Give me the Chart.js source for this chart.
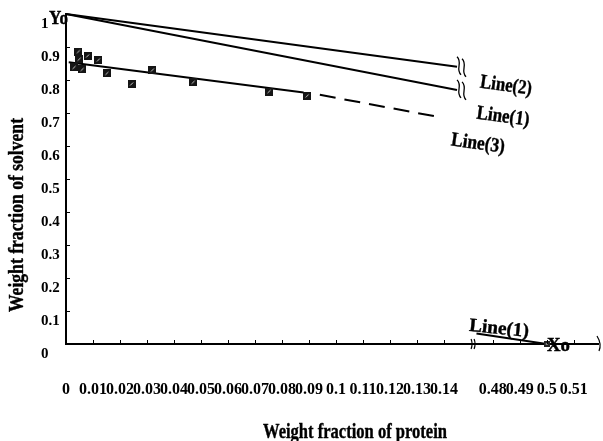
<!DOCTYPE html>
<html>
<head>
<meta charset="utf-8">
<script src="https://cdn.jsdelivr.net/npm/chart.js@4.4.1/dist/chart.umd.min.js"></script>
<style>
  html, body { margin: 0; padding: 0; background: #fff; }
</style>
</head>
<body>
<canvas id="chart" width="603" height="441"></canvas>
<script>
// values (weight fraction of protein / of solvent)
const pointsX = [0.0046, 0.0049, 0.0030, 0.0060, 0.0080, 0.0120, 0.0151, 0.0243, 0.0320, 0.0471, 0.0752, 0.0893];
const pointsY = [0.886, 0.863, 0.838, 0.832, 0.873, 0.861, 0.820, 0.788, 0.830, 0.793, 0.765, 0.752];

const line1X = [0, 0.1448];
const line1Y = [1.0, 0.770];
const line1TailX = [0.474, 0.5];
const line1TailY = [0.032, 0];
const line2X = [0, 0.1448];
const line2Y = [1.0, 0.840];
const line3X = [0.001, 0.088];
const line3Y = [0.854, 0.762];
const line3DashX = [0.094, 0.1393];
const line3DashY = [0.755, 0.686];

const xoX = [0.5];
const xoY = [0];

const xTicksLeft = [0, 0.01, 0.02, 0.03, 0.04, 0.05, 0.06, 0.07, 0.08, 0.09, 0.1, 0.11, 0.12, 0.13, 0.14];
const xTicksRight = [0.48, 0.49, 0.5, 0.51];
const yTicks = [0, 0.1, 0.2, 0.3, 0.4, 0.5, 0.6, 0.7, 0.8, 0.9, 1];

// the x axis is broken between 0.15 and 0.47, the right piece is slid left
const BREAK_AT = 0.15;
const BREAK_SHIFT = 0.322;
const toAxis = x => x > BREAK_AT ? x - BREAK_SHIFT : x;
const xTickValues = xTicksLeft.concat(xTicksRight);

const pts = (xs, ys) => xs.map((x, i) => ({ x: toAxis(x), y: ys[i] }));

const SERIF = '"Liberation Serif", "Times New Roman", serif';

// hatched square like the original markers
const marker = document.createElement('canvas');
marker.width = 8; marker.height = 8;
{
  const m = marker.getContext('2d');
  m.fillStyle = '#151515'; m.fillRect(0, 0, 8, 8);
  m.strokeStyle = '#c8c8c8'; m.lineWidth = 1;
  m.beginPath(); m.moveTo(2.5, 5.5); m.lineTo(5.5, 2.5); m.stroke();
}
const xoMarker = document.createElement('canvas');
xoMarker.width = 6; xoMarker.height = 6;
{
  const m = xoMarker.getContext('2d');
  m.fillStyle = '#222'; m.fillRect(0, 0, 6, 6);
  m.fillStyle = '#888'; m.fillRect(2, 2, 2, 2);
}

const lineSet = (data, extra) => Object.assign({
  data, showLine: true, pointRadius: 0, borderColor: '#000', borderWidth: 2,
  fill: false, clip: false, tension: 0
}, extra || {});

// squeezed text, the original uses a narrow heavy serif
function fitText(ctx, text, cx, cy, font, width, angle) {
  ctx.save();
  ctx.font = font;
  ctx.fillStyle = '#000';
  ctx.strokeStyle = '#000';
  ctx.lineWidth = 0.4;
  ctx.textAlign = 'center';
  ctx.textBaseline = 'middle';
  const w = ctx.measureText(text).width;
  ctx.translate(cx, cy);
  ctx.rotate((angle || 0) * Math.PI / 180);
  ctx.scale(width / w, 1);
  ctx.fillText(text, 0, 0);
  ctx.strokeText(text, 0, 0);
  ctx.restore();
}

function sCurve(ctx, x, y, h) {
  ctx.beginPath();
  ctx.moveTo(x - 2, y - h);
  ctx.bezierCurveTo(x + 4, y - h / 3, x - 4, y + h / 3, x + 2, y + h);
  ctx.stroke();
}

const extras = {
  id: 'extras',
  afterDraw(chart) {
    const { ctx, chartArea, scales: { x, y } } = chart;
    ctx.save();
    ctx.strokeStyle = '#000';
    ctx.lineWidth = 1;
    // inward tick marks
    x.ticks.forEach(t => {
      const px = Math.round(x.getPixelForValue(t.value)) + 0.5;
      if (px < chartArea.left + 2) return;
      ctx.beginPath(); ctx.moveTo(px, chartArea.bottom); ctx.lineTo(px, chartArea.bottom - 4); ctx.stroke();
    });
    y.ticks.forEach(t => {
      const py = Math.round(y.getPixelForValue(t.value)) + 0.5;
      ctx.beginPath(); ctx.moveTo(chartArea.left, py); ctx.lineTo(chartArea.left + 4, py); ctx.stroke();
    });
    // axis break marks
    const bx = x.getPixelForValue(BREAK_AT);
    const by = chartArea.bottom;
    ctx.lineWidth = 1.2;
    [bx + 1, bx + 4].forEach(px => {
      ctx.beginPath(); ctx.moveTo(px - 1, by - 5); ctx.quadraticCurveTo(px + 1, by, px - 1, by + 5); ctx.stroke();
    });
    ctx.beginPath(); ctx.moveTo(chartArea.right - 1, by - 8); ctx.quadraticCurveTo(chartArea.right + 4, by, chartArea.right + 1, by + 7); ctx.stroke();
    // break marks at the ends of line (1) and (2)
    ctx.lineWidth = 1.3;
    [[line2X[1], line2Y[1]], [line1X[1], line1Y[1]]].forEach(([vx, vy]) => {
      const px = x.getPixelForValue(toAxis(vx));
      const py = y.getPixelForValue(vy);
      sCurve(ctx, px + 2, py - 1, 9);
      sCurve(ctx, px + 7, py + 1, 9);
    });
    ctx.restore();

    fitText(ctx, 'Yo', 58.5, 19, 'bold 19px ' + SERIF, 19);
    fitText(ctx, 'Xo', 558.5, 346.5, 'bold 18px ' + SERIF, 23);
    fitText(ctx, 'Line(2)', 506, 86, 'bold 20px ' + SERIF, 52, 8);
    fitText(ctx, 'Line(1)', 503, 117, 'bold 20px ' + SERIF, 53, 8);
    fitText(ctx, 'Line(3)', 478, 144, 'bold 20px ' + SERIF, 54, 8);
    fitText(ctx, 'Line(1)', 499, 329, 'bold 19px ' + SERIF, 60, 6);
    fitText(ctx, 'Weight fraction of protein', 355, 433, 'bold 21px ' + SERIF, 184);
    fitText(ctx, 'Weight fraction of solvent', 18, 215, 'bold 21px ' + SERIF, 194, -90);
  }
};

new Chart(document.getElementById('chart'), {
  type: 'scatter',
  data: {
    datasets: [
      { data: pts(pointsX, pointsY), pointStyle: marker, pointRadius: 4, showLine: false, clip: false },
      { data: pts(xoX, xoY), pointStyle: xoMarker, pointRadius: 3, showLine: false, clip: false },
      lineSet(pts(line3X, line3Y)),
      lineSet(pts(line3DashX, line3DashY), { borderDash: [16, 9] }),
      lineSet(pts(line1X, line1Y)),
      lineSet(pts(line2X, line2Y)),
      lineSet(pts(line1TailX, line1TailY))
    ]
  },
  options: {
    responsive: false,
    animation: false,
    devicePixelRatio: 1,
    layout: { padding: { left: 41, top: 14, right: 5, bottom: 0 } },
    plugins: { legend: { display: false }, tooltip: { enabled: false } },
    scales: {
      x: {
        type: 'linear',
        min: 0,
        max: 0.197,
        afterBuildTicks: axis => { axis.ticks = xTickValues.map(v => ({ value: toAxis(v) })); },
        afterFit: s => { s.height = 97; s.paddingLeft = 0; s.paddingRight = 0; },
        grid: { display: false, drawTicks: false },
        border: { display: true, color: '#000', width: 2 },
        ticks: {
          autoSkip: false,
          maxRotation: 0,
          minRotation: 0,
          padding: 36,
          color: '#000',
          font: { family: SERIF, size: 16, weight: 'bold' },
          callback: (v, i) => String(xTickValues[i])
        }
      },
      y: {
        type: 'linear',
        min: 0,
        max: 1,
        afterBuildTicks: axis => { axis.ticks = yTicks.map(v => ({ value: v })); },
        afterFit: s => { s.width = 25; s.paddingTop = 0; s.paddingBottom = 0; },
        grid: { display: false, drawTicks: false },
        border: { display: true, color: '#000', width: 2 },
        ticks: {
          crossAlign: 'far',
          padding: 0,
          labelOffset: 10,
          color: '#000',
          font: { family: SERIF, size: 15, weight: 'bold' },
          callback: (v, i) => String(yTicks[i])
        }
      }
    }
  },
  plugins: [extras]
});
</script>
</body>
</html>
